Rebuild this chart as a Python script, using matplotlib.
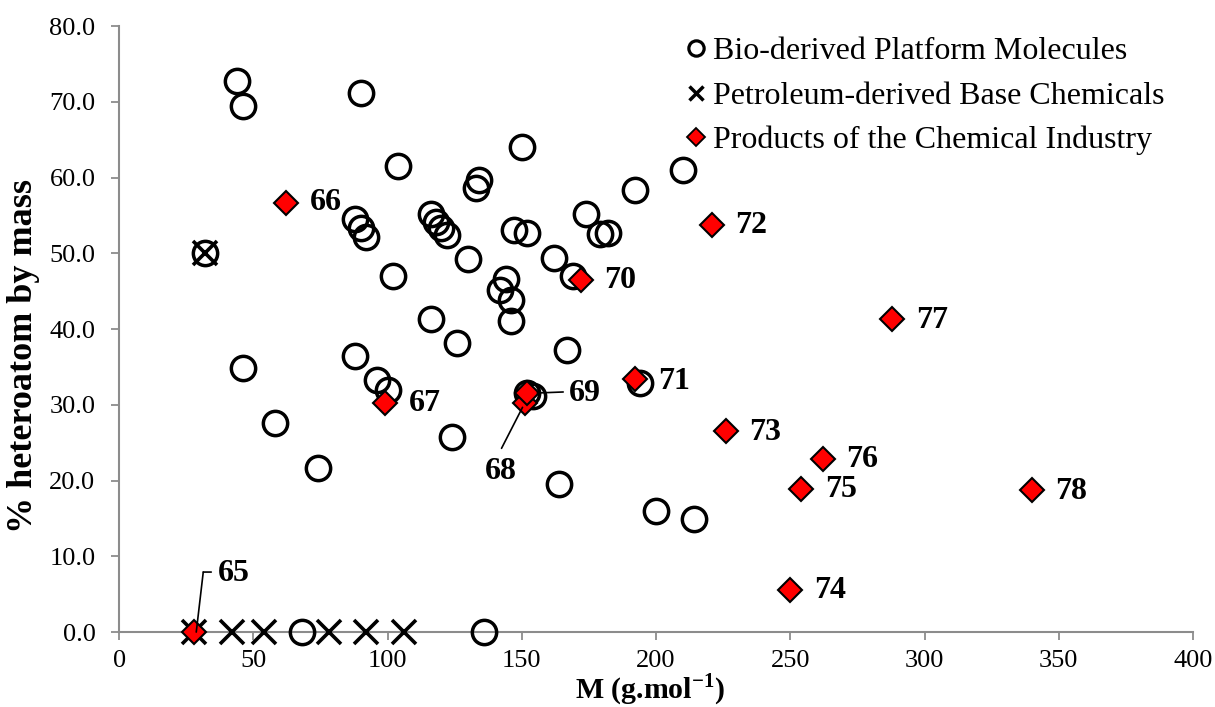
import matplotlib
matplotlib.use("Agg")
import matplotlib.pyplot as plt
from matplotlib.lines import Line2D
from matplotlib.transforms import offset_copy

plt.rcParams['font.family'] = ['Liberation Serif', 'DejaVu Serif']
plt.rcParams['mathtext.fontset'] = 'custom'
plt.rcParams['mathtext.rm'] = 'Liberation Serif'
plt.rcParams['mathtext.bf'] = 'Liberation Serif:bold'

# Bio-derived platform molecules: molar mass (g/mol), % heteroatom by mass
bio_M = [44, 46, 90, 104, 134, 133, 88, 90, 92, 116, 118, 120, 122, 130, 102,
         116, 126, 88, 150, 210, 192, 174, 179, 182, 147, 152, 162, 169, 144,
         142, 146, 146, 167, 194, 152, 154, 46, 96, 100, 58, 74, 124, 164, 200,
         214, 32, 68, 136]
bio_het = [72.7, 69.5, 71.2, 61.5, 59.7, 58.6, 54.5, 53.3, 52.2, 55.2, 54.2,
           53.4, 52.4, 49.2, 47.0, 41.3, 38.2, 36.4, 64.0, 61.0, 58.4, 55.2,
           52.6, 52.7, 53.1, 52.7, 49.4, 47.0, 46.6, 45.1, 43.9, 41.1, 37.2,
           32.9, 31.6, 31.2, 34.8, 33.3, 32.0, 27.6, 21.6, 25.8, 19.5, 16.0,
           14.9, 50.0, 0.0, 0.0]

# Petroleum-derived base chemicals
pet_M = [28, 42, 54, 78, 92, 106, 32]
pet_het = [0.0, 0.0, 0.0, 0.0, 0.0, 0.0, 50.0]

# Products of the chemical industry (numbered)
prod_id = ['65', '66', '67', '68', '69', '70', '71', '72', '73', '74', '75',
           '76', '77', '78']
prod_M = [28, 62, 99, 151, 152, 172, 192, 221, 226, 250, 254, 262, 288, 340]
prod_het = [0.0, 56.7, 30.3, 30.2, 31.5, 46.5, 33.4, 53.8, 26.5, 5.6, 18.9,
            22.9, 41.3, 18.7]

x_ticks = [0, 50, 100, 150, 200, 250, 300, 350, 400]
y_ticks = [0, 10, 20, 30, 40, 50, 60, 70, 80]

fig = plt.figure(figsize=(12.15, 7.07), dpi=100)
ax = fig.add_axes([0.098, 0.106, 0.884, 0.857])

ax.plot(bio_M, bio_het, linestyle='none', marker='o', markersize=17.5,
        markerfacecolor='none', markeredgecolor='black', markeredgewidth=2.5,
        zorder=3, clip_on=False)
ax.plot(pet_M, pet_het, linestyle='none', marker='x', markersize=17,
        markeredgecolor='black', markeredgewidth=2.6, zorder=4, clip_on=False)
ax.plot(prod_M, prod_het, linestyle='none', marker='D', markersize=12.5,
        markerfacecolor='#ff0000', markeredgecolor='black',
        markeredgewidth=1.5, zorder=5, clip_on=False)

ax.set_xlim(0, 400)
ax.set_ylim(0, 80)
ax.set_xticks(x_ticks)
ax.set_yticks(y_ticks)
ax.set_yticklabels([f'{v:.1f}' for v in y_ticks])
for s in ('top', 'right'):
    ax.spines[s].set_visible(False)
for s in ('left', 'bottom'):
    ax.spines[s].set_color('#8c8c8c')
    ax.spines[s].set_linewidth(1.5)
ax.tick_params(axis='both', direction='out', length=6, width=1.3,
               color='#8c8c8c', labelsize=19)
ax.tick_params(axis='y', pad=11)
ax.tick_params(axis='x', pad=7)

fig.text(0.019, 0.4965, '% heteroatom by mass', rotation=90, ha='center',
         va='center', fontsize=26, fontweight='bold')
fig.text(0.535, 1 - 699 / 707, r'M (g.mol$^{\mathbf{-1}}$)', ha='center',
         va='baseline', fontsize=21.5, fontweight='bold')

# Label offsets in pixels (dx, dy) relative to each product marker
label_off = {'65': (24, 59), '66': (24, 0), '67': (24, -1), '68': (-40, -68),
             '69': (42, 0), '70': (23, -1), '71': (24, -2), '72': (23, -1),
             '73': (23, -1), '74': (24, -1), '75': (24, -1), '76': (24, -1),
             '77': (24, -1), '78': (23, -1)}
for pid, mx, my in zip(prod_id, prod_M, prod_het):
    dx, dy = label_off[pid]
    ax.annotate(pid, (mx, my), xytext=(dx, dy), textcoords='offset pixels',
                ha='left', va='center', fontsize=23, fontweight='bold',
                zorder=6, annotation_clip=False)

# Leader lines, given as pixel offsets from the marker they point to
leaders = {'65': [(2, 0), (9, 60), (17, 60)],
           '68': [(-2, -4), (-23, -45)],
           '69': [(10, 0.5), (36, 1.5)]}
for pid, pts in leaders.items():
    i = prod_id.index(pid)
    mx, my = prod_M[i], prod_het[i]
    for (x1, y1), (x2, y2) in zip(pts[:-1], pts[1:]):
        tr = offset_copy(ax.transData, fig=fig, x=x1, y=y1, units='dots')
        ax.annotate('', xy=(mx, my), xycoords=tr,
                    xytext=(x2 - x1, y2 - y1), textcoords='offset pixels',
                    arrowprops=dict(arrowstyle='-', color='black', lw=1.2,
                                    shrinkA=0, shrinkB=0),
                    annotation_clip=False, zorder=6)

handles = [
    Line2D([], [], linestyle='none', marker='o', markersize=11,
           markerfacecolor='none', markeredgecolor='black',
           markeredgewidth=2.3),
    Line2D([], [], linestyle='none', marker='x', markersize=10.5,
           markeredgecolor='black', markeredgewidth=2.5),
    Line2D([], [], linestyle='none', marker='D', markersize=9.5,
           markerfacecolor='#ff0000', markeredgecolor='black',
           markeredgewidth=1.3),
]
labels = ['Bio-derived Platform Molecules',
          'Petroleum-derived Base Chemicals',
          'Products of the Chemical Industry']
fig.legend(handles, labels, loc='upper left',
           bbox_to_anchor=(684 / 1215, 1 - 37 / 707), frameon=False,
           fontsize=23, handlelength=0.75, handletextpad=0.15,
           labelspacing=0.47, borderpad=0, borderaxespad=0)

fig.savefig('out.png', dpi=100)
